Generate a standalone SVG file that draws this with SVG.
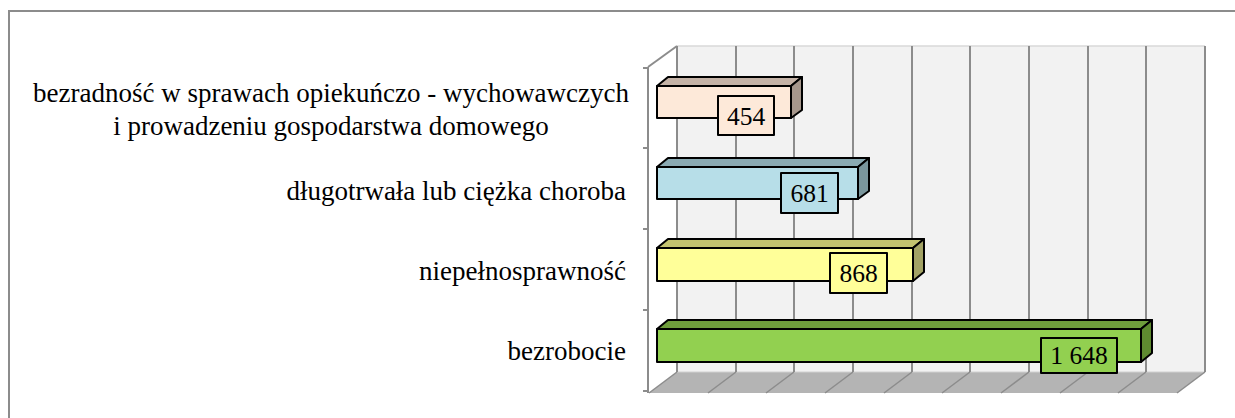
<svg xmlns="http://www.w3.org/2000/svg" width="1235" height="418" viewBox="0 0 1235 418">
<style>
.lbl{font-family:"Liberation Serif","Times New Roman",serif;font-size:27px;fill:#000}
.val{font-family:"Liberation Serif","Times New Roman",serif;font-size:25.5px;fill:#000;text-anchor:middle}
.grid{stroke:#8c8c8c;stroke-width:2;fill:none}
.fgrid{stroke:#8c8c8c;stroke-width:1.5;fill:none}
.edge{stroke:#000;stroke-width:2;stroke-linejoin:round}
</style>
<rect x="0" y="0" width="1235" height="418" fill="#fff"/>
<rect x="9" y="11" width="1240" height="420" fill="none" stroke="#8c8c8c" stroke-width="2"/>
<g id="plot-area">
  <polygon points="677,46 1205,46 1205,372 677,372" fill="#f2f2f2"/>
  <line x1="677" y1="46" x2="1205" y2="46" stroke="#d9d9d9" stroke-width="1.5"/>
  <polygon points="677,372 1205,372 1177,393 649,393" fill="#b4b4b4"/>
  <line x1="677" y1="372" x2="1205" y2="372" stroke="#d0d0d0" stroke-width="1"/>
  <g class="grid">
    <line x1="677" y1="46" x2="677" y2="372"/>
    <line x1="736" y1="46" x2="736" y2="372"/>
    <line x1="794" y1="46" x2="794" y2="372"/>
    <line x1="853" y1="46" x2="853" y2="372"/>
    <line x1="912" y1="46" x2="912" y2="372"/>
    <line x1="970" y1="46" x2="970" y2="372"/>
    <line x1="1029" y1="46" x2="1029" y2="372"/>
    <line x1="1088" y1="46" x2="1088" y2="372"/>
    <line x1="1146" y1="46" x2="1146" y2="372"/>
    <line x1="1205" y1="46" x2="1205" y2="372"/>
  </g>
  <g class="fgrid">
    <line x1="677" y1="372" x2="649" y2="393"/>
    <line x1="736" y1="372" x2="708" y2="393"/>
    <line x1="794" y1="372" x2="766" y2="393"/>
    <line x1="853" y1="372" x2="825" y2="393"/>
    <line x1="912" y1="372" x2="884" y2="393"/>
    <line x1="970" y1="372" x2="942" y2="393"/>
    <line x1="1029" y1="372" x2="1001" y2="393"/>
    <line x1="1088" y1="372" x2="1060" y2="393"/>
    <line x1="1146" y1="372" x2="1118" y2="393"/>
    <line x1="1205" y1="372" x2="1177" y2="393"/>
  </g>
  <g class="grid">
    <line x1="648" y1="67" x2="677" y2="46"/>
    <line x1="648" y1="67" x2="648" y2="393"/>
    <line x1="643" y1="68" x2="648" y2="68"/>
    <line x1="643" y1="148" x2="648" y2="148"/>
    <line x1="643" y1="229" x2="648" y2="229"/>
    <line x1="643" y1="310" x2="648" y2="310"/>
    <line x1="643" y1="391" x2="648" y2="391"/>
  </g>
</g>
<g id="bar-bezradnosc">
  <polygon class="edge" points="657,86 668,77 802,77 791,86" fill="#c5b3a7"/>
  <polygon class="edge" points="791,86 802,77 802,110 791,118" fill="#a6978c"/>
  <rect class="edge" x="657" y="86" width="134" height="32" fill="#fde9d9"/>
  <rect class="edge" x="718" y="96" width="56" height="39" fill="#fde9d9"/>
  <text class="val" x="746" y="125">454</text>
  <text class="lbl" x="331" y="101.5" text-anchor="middle">bezradność w sprawach opiekuńczo - wychowawczych</text>
  <text class="lbl" x="331" y="134.5" text-anchor="middle">i prowadzeniu gospodarstwa domowego</text>
</g>
<g id="bar-choroba">
  <polygon class="edge" points="657,167 668,158 869,158 858,167" fill="#8aaab2"/>
  <polygon class="edge" points="858,167 869,158 869,191 858,199" fill="#7a969c"/>
  <rect class="edge" x="657" y="167" width="201" height="32" fill="#b7dee8"/>
  <rect class="edge" x="781" y="173" width="57" height="40" fill="#b7dee8"/>
  <text class="val" x="809.5" y="202">681</text>
  <text class="lbl" x="626" y="200" text-anchor="end">długotrwała lub ciężka choroba</text>
</g>
<g id="bar-niepelnosprawnosc">
  <polygon class="edge" points="657,248 668,239 924,239 913,248" fill="#c3c36f"/>
  <polygon class="edge" points="913,248 924,239 924,272 913,281" fill="#a3a365"/>
  <rect class="edge" x="657" y="248" width="256" height="33" fill="#ffff99"/>
  <rect class="edge" x="830" y="253" width="57" height="40" fill="#ffff99"/>
  <text class="val" x="858.5" y="282">868</text>
  <text class="lbl" x="626" y="280" text-anchor="end">niepełnosprawność</text>
</g>
<g id="bar-bezrobocie">
  <polygon class="edge" points="657,329 668,320 1152,320 1141,329" fill="#6f9e3c"/>
  <polygon class="edge" points="1141,329 1152,320 1152,353 1141,362" fill="#5e8a30"/>
  <rect class="edge" x="657" y="329" width="484" height="33" fill="#92d050"/>
  <rect class="edge" x="1041" y="338" width="76" height="35" fill="#92d050"/>
  <text class="val" x="1079" y="364">1 648</text>
  <text class="lbl" x="626" y="360" text-anchor="end">bezrobocie</text>
</g>
<g id="connectors"></g>
</svg>
